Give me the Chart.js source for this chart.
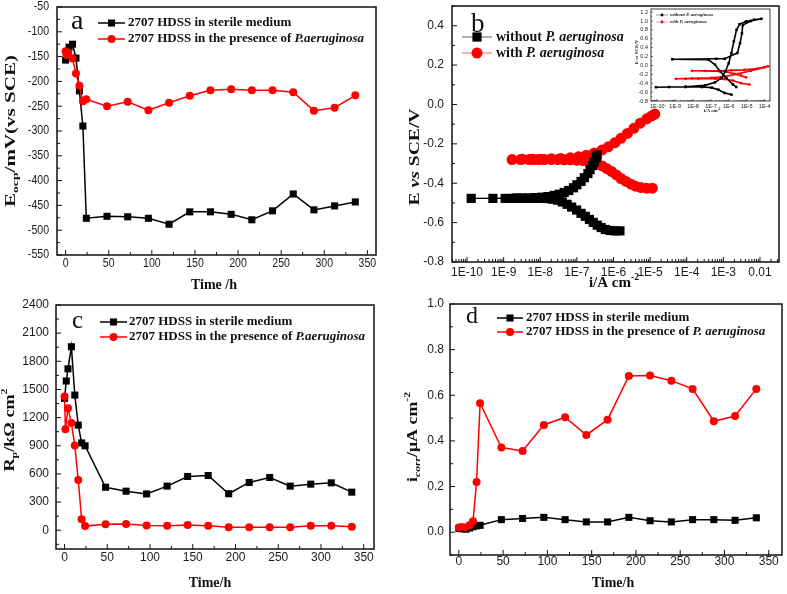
<!DOCTYPE html>
<html>
<head>
<meta charset="utf-8">
<script src="https://cdn.jsdelivr.net/npm/chart.js@4.4.0/dist/chart.umd.min.js"></script>
<style>
html, body { margin: 0; padding: 0; background: #fff; }
#wrap { position: relative; width: 787px; height: 594px; overflow: hidden; background: #fff; }
canvas { position: absolute; }
</style>
</head>
<body>
<div id="wrap">
  <canvas id="ca"></canvas>
  <canvas id="cc"></canvas>
  <canvas id="cd"></canvas>
  <canvas id="cb"></canvas>
  <canvas id="cin"></canvas>
</div>
<script>
// ---------- panel a : open circuit potential ----------
const tA_sterile = [0, 4, 8, 12, 16, 20, 24, 48, 72, 96, 120, 144, 168, 192, 216, 240, 264, 288, 312, 336];
const eocp_sterile = [-157, -131, -125, -153, -219, -290, -476, -472, -473, -476, -488, -463, -463, -468, -479, -461, -427, -459, -451, -443];
const tA_pa = [0, 1, 3, 8, 12, 16, 20, 24, 48, 72, 96, 120, 144, 168, 192, 216, 240, 264, 288, 312, 336];
const eocp_pa = [-139, -147, -142, -154, -184, -209, -240, -236, -250, -241, -258, -243, -229, -218, -216, -218, -218, -222, -259, -253, -228];
const ticksA_x = [0, 50, 100, 150, 200, 250, 300, 350];
const ticksA_y = [-550, -500, -450, -400, -350, -300, -250, -200, -150, -100, -50];

// ---------- panel b : polarization curves ----------
const iB_without = [1.5e-6, 1.1e-6, 8.1e-7, 6.0e-7, 4.6e-7, 3.6e-7, 2.8e-7, 2.2e-7, 1.7e-7, 1.3e-7, 9.8e-8, 7.2e-8, 5.4e-8, 4.0e-8, 3.0e-8, 2.2e-8, 1.6e-8, 1.2e-8, 8.9e-9, 6.6e-9, 4.9e-9, 3.6e-9, 2.7e-9, 1.8e-9, 1.1e-9, 5.1e-10, 1.3e-10,
  2.2e-9, 3.2e-9, 4.9e-9, 7.2e-9, 1.1e-8, 1.6e-8, 2.4e-8, 3.3e-8, 4.5e-8, 6.0e-8, 8.1e-8, 1.0e-7, 1.3e-7, 1.6e-7, 2.0e-7, 2.3e-7, 2.7e-7, 3.0e-7, 3.4e-7, 3.6e-7];
const eB_without = [-0.642, -0.642, -0.640, -0.635, -0.625, -0.613, -0.599, -0.584, -0.568, -0.553, -0.536, -0.521, -0.507, -0.495, -0.486, -0.481, -0.478, -0.477, -0.477, -0.477, -0.477, -0.477, -0.477, -0.477, -0.477, -0.477, -0.477,
  -0.475, -0.475, -0.475, -0.473, -0.471, -0.468, -0.462, -0.456, -0.447, -0.437, -0.423, -0.408, -0.391, -0.372, -0.351, -0.331, -0.310, -0.290, -0.269, -0.257];
const iB_with = [1.15e-5, 8.1e-6, 5.6e-6, 4.0e-6, 3.0e-6, 2.2e-6, 1.6e-6, 1.2e-6, 8.9e-7, 6.6e-7, 4.9e-7, 3.6e-7, 2.7e-7, 2.0e-7, 1.5e-7, 9.8e-8, 6.6e-8, 4.5e-8, 3.0e-8, 2.0e-8, 1.3e-8, 8.9e-9, 6.6e-9, 4.9e-9, 2.9e-9, 1.7e-9,
  3.2e-9, 6.0e-9, 1.1e-8, 2.0e-8, 3.6e-8, 6.6e-8, 1.1e-7, 1.8e-7, 3.0e-7, 4.9e-7, 7.2e-7, 1.1e-6, 1.6e-6, 2.4e-6, 3.6e-6, 5.4e-6, 8.1e-6, 1.1e-5, 1.35e-5];
const eB_with = [-0.425, -0.425, -0.422, -0.415, -0.405, -0.391, -0.376, -0.358, -0.341, -0.326, -0.312, -0.302, -0.293, -0.288, -0.285, -0.283, -0.281, -0.281, -0.280, -0.280, -0.280, -0.280, -0.280, -0.280, -0.280, -0.280,
  -0.278, -0.278, -0.278, -0.276, -0.275, -0.271, -0.266, -0.258, -0.246, -0.231, -0.215, -0.194, -0.172, -0.147, -0.121, -0.095, -0.073, -0.058, -0.049];
const ticksB_x = [1e-10, 1e-9, 1e-8, 1e-7, 1e-6, 1e-5, 1e-4, 1e-3, 1e-2];
const labelsB_x = ['1E-10', '1E-9', '1E-8', '1E-7', '1E-6', '1E-5', '1E-4', '1E-3', '0.01'];
const ticksB_y = [-0.8, -0.6, -0.4, -0.2, 0, 0.2, 0.4];
const labelsB_y = ['-0.8', '-0.6', '-0.4', '-0.2', '0.0', '0.2', '0.4'];

// inset of panel b : cyclic polarization
const iIn_without = [1.4e-6, 5.9e-7, 2.6e-7, 1.1e-7, 3.1e-8, 3.8e-9, 4.6e-10, 8.5e-11,
  3.8e-9, 4.7e-8, 1.7e-7, 3.9e-7, 6.5e-7, 9.8e-7, 1.4e-6, 1.9e-6, 2.7e-6, 4.0e-6, 9.1e-6, 2.6e-5, 6.6e-5,
  1.7e-5, 6.0e-6, 5.4e-6, 4.2e-6, 3.0e-6, 5.9e-7, 2.0e-7, 6.9e-10,
  7.2e-8, 1.7e-7, 3.2e-7, 7.2e-7, 1.7e-6, 2.6e-6];
const eIn_without = [-0.657, -0.62, -0.545, -0.50, -0.485, -0.485, -0.485, -0.49,
  -0.478, -0.448, -0.38, -0.28, -0.13, 0.05, 0.28, 0.54, 0.80, 0.93, 0.99, 1.03, 1.05,
  1.0, 0.91, 0.72, 0.50, 0.28, 0.15, 0.15, 0.14,
  0.13, 0.015, -0.13, -0.28, -0.43, -0.485];
const iIn_with = [1.4e-5, 4.9e-6, 1.7e-6, 5.9e-7, 1.7e-7, 2.0e-8, 3.8e-9, 1.1e-9,
  8.7e-9, 1.1e-7, 5.9e-7, 3.2e-6, 1.7e-5, 9.8e-5, 1.55e-4,
  4.0e-5, 7.4e-6, 1.4e-6, 2.6e-7, 4.7e-8, 8.7e-9,
  5.9e-7, 2.1e-6, 4.9e-6, 9.1e-6];
const eIn_with = [-0.43, -0.40, -0.34, -0.31, -0.30, -0.30, -0.30, -0.30,
  -0.29, -0.28, -0.25, -0.19, -0.12, -0.045, -0.02,
  -0.07, -0.10, -0.11, -0.12, -0.12, -0.12,
  -0.135, -0.19, -0.23, -0.27];
const ticksIn_x = [1e-10, 1e-9, 1e-8, 1e-7, 1e-6, 1e-5, 1e-4];
const labelsIn_x = ['1E-10', '1E-9', '1E-8', '1E-7', '1E-6', '1E-5', '1E-4'];
const ticksIn_y = [-0.8, -0.6, -0.4, -0.2, 0, 0.2, 0.4, 0.6, 0.8, 1.0, 1.2];
const labelsIn_y = ['-0.8', '-0.6', '-0.4', '-0.2', '0.0', '0.2', '0.4', '0.6', '0.8', '1.0', '1.2'];

// ---------- panel c : polarization resistance ----------
const tC_sterile = [0, 2, 4, 8, 12, 16, 20, 24, 48, 72, 96, 120, 144, 168, 192, 216, 240, 264, 288, 312, 336];
const rp_sterile = [1405, 1590, 1720, 1955, 1440, 1120, 930, 900, 458, 416, 387, 470, 573, 583, 389, 509, 562, 470, 491, 505, 406];
const tC_pa = [0, 1, 4, 8, 12, 16, 20, 24, 48, 72, 96, 120, 144, 168, 192, 216, 240, 264, 288, 312, 336];
const rp_pa = [1425, 1075, 1300, 1143, 902, 535, 116, 44, 65, 67, 50, 47, 57, 49, 33, 33, 33, 33, 49, 49, 36];
const ticksC_x = [0, 50, 100, 150, 200, 250, 300, 350];
const ticksC_y = [0, 300, 600, 900, 1200, 1500, 1800, 2100, 2400];

// ---------- panel d : corrosion current density ----------
const tD_sterile = [0, 4, 8, 12, 16, 20, 24, 48, 72, 96, 120, 144, 168, 192, 216, 240, 264, 288, 312, 336];
const icorr_sterile = [0.016, 0.015, 0.013, 0.018, 0.024, 0.028, 0.03, 0.055, 0.06, 0.065, 0.055, 0.045, 0.045, 0.065, 0.05, 0.045, 0.055, 0.055, 0.052, 0.063];
const tD_pa = [0, 3, 7, 12, 16, 20, 24, 48, 72, 96, 120, 144, 168, 192, 216, 240, 264, 288, 312, 336];
const icorr_pa = [0.021, 0.023, 0.021, 0.03, 0.048, 0.22, 0.565, 0.371, 0.356, 0.47, 0.504, 0.426, 0.493, 0.685, 0.687, 0.664, 0.628, 0.486, 0.509, 0.628];
const ticksD_x = [0, 50, 100, 150, 200, 250, 300, 350];
const ticksD_y = [0, 0.2, 0.4, 0.6, 0.8, 1.0];

const SERIF = '"Liberation Serif", "Times New Roman", serif';
const SANS = '"Liberation Sans", Arial, sans-serif';

function pts(xs, ys) { return xs.map((x, i) => ({ x: x, y: ys[i] })); }

function linMinor(major, min, max) {
  const st = major[1] - major[0], out = [];
  for (let v = major[0] - st / 2; v <= max + 1e-9; v += st) if (v >= min - 1e-9) out.push(v);
  return out;
}
function logMinor(min, max) {
  const out = [];
  for (let e = Math.floor(Math.log10(min)); e <= Math.ceil(Math.log10(max)); e++)
    for (let k = 2; k <= 9; k++) { const v = k * Math.pow(10, e); if (v > min && v < max) out.push(v); }
  return out;
}

// rich text: segments with italic / sub / sup, optional stretch to a length
function richText(ctx, segs, x, y, size, rot, len) {
  const font = s => {
    const sz = (s.sub || s.sup) ? size * 0.65 : size;
    return (s.it ? 'italic ' : '') + 'bold ' + sz + 'px ' + SERIF;
  };
  let w = 0;
  segs.forEach(s => { ctx.font = font(s); w += ctx.measureText(s.t).width; });
  ctx.save();
  ctx.translate(x, y);
  if (rot) ctx.rotate(rot);
  if (len) ctx.scale(len / w, 1);
  ctx.textBaseline = 'middle';
  ctx.textAlign = 'left';
  let cx = -w / 2;
  segs.forEach(s => {
    ctx.font = font(s);
    const dy = s.sub ? size * 0.3 : s.sup ? -size * 0.4 : 0;
    ctx.fillText(s.t, cx, dy);
    cx += ctx.measureText(s.t).width;
  });
  ctx.restore();
}

function legendText(ctx, segs, x, y, size) {
  ctx.textBaseline = 'middle';
  ctx.textAlign = 'left';
  let cx = x;
  segs.forEach(s => {
    ctx.font = (s.it ? 'italic ' : '') + 'bold ' + size + 'px ' + SERIF;
    ctx.fillText(s.t, cx, y);
    cx += ctx.measureText(s.t).width;
  });
}

function marker(ctx, style, x, y, r, color) {
  ctx.fillStyle = color;
  ctx.beginPath();
  if (style === 'rect') { const h = r * Math.SQRT1_2; ctx.rect(x - h, y - h, 2 * h, 2 * h); }
  else ctx.arc(x, y, r, 0, Math.PI * 2);
  ctx.fill();
}

const deco = {
  id: 'deco',
  afterDraw(chart, args, o) {
    const ctx = chart.ctx, a = chart.chartArea;
    const xs = chart.scales.x, ys = chart.scales.y;
    const ox = o.box.x, oy = o.box.y;
    ctx.save();
    ctx.strokeStyle = '#111';
    ctx.lineWidth = o.frameW;
    ctx.strokeRect(a.left, a.top, a.right - a.left, a.bottom - a.top);
    ctx.lineWidth = o.tickW;
    const tk = (x1, y1, x2, y2) => { ctx.beginPath(); ctx.moveTo(x1, y1); ctx.lineTo(x2, y2); ctx.stroke(); };
    o.xMajor.forEach(v => { const p = xs.getPixelForValue(v); tk(p, a.bottom, p, a.bottom - o.maj); });
    o.xMinor.forEach(v => { const p = xs.getPixelForValue(v); tk(p, a.bottom, p, a.bottom - o.min); });
    o.yMajor.forEach(v => { const p = ys.getPixelForValue(v); tk(a.left, p, a.left + o.maj, p); });
    o.yMinor.forEach(v => { const p = ys.getPixelForValue(v); tk(a.left, p, a.left + o.min, p); });

    // tick labels
    ctx.fillStyle = '#1a1a1a';
    ctx.font = o.tickSize + 'px ' + SANS;
    ctx.textBaseline = 'middle';
    o.xMajor.forEach((v, i) => {
      const p = xs.getPixelForValue(v);
      ctx.save(); ctx.translate(p, a.bottom + o.xPad); ctx.scale(o.sq, 1);
      ctx.textAlign = 'center'; ctx.fillText(o.xLabels[i], 0, 0); ctx.restore();
    });
    o.yMajor.forEach((v, i) => {
      const p = ys.getPixelForValue(v);
      ctx.save(); ctx.translate(a.left - o.yPad, p); ctx.scale(o.sq, 1);
      ctx.textAlign = 'right'; ctx.fillText(o.yLabels[i], 0, 0); ctx.restore();
    });

    // axis titles
    ctx.fillStyle = '#111';
    const yt = o.yTitle, xt = o.xTitle;
    richText(ctx, yt.segs, yt.x - ox, yt.y - oy, yt.size, -Math.PI / 2, yt.len);
    richText(ctx, xt.segs, xt.x - ox, xt.y - oy, xt.size, 0, xt.len);

    // legend
    const lg = o.legend;
    lg.rows.forEach(r => {
      ctx.strokeStyle = r.lineColor; ctx.lineWidth = lg.lw;
      tk(lg.x1 - ox, r.y - oy, lg.x2 - ox, r.y - oy);
      marker(ctx, r.style, (lg.x1 + lg.x2) / 2 - ox, r.y - oy, r.r, r.color);
      ctx.fillStyle = '#111';
      legendText(ctx, r.segs, lg.tx - ox, r.y - oy, lg.size);
    });

    // panel letter
    if (o.letter) {
      ctx.fillStyle = '#111';
      ctx.font = o.letter.size + 'px ' + SERIF;
      ctx.textAlign = 'left'; ctx.textBaseline = 'alphabetic';
      ctx.fillText(o.letter.t, o.letter.x - ox, o.letter.y - oy);
    }
    ctx.restore();
  }
};

function makePanel(id, box, plot, datasets, xScale, yScale, d) {
  const cv = document.getElementById(id);
  cv.width = box.w; cv.height = box.h;
  cv.style.left = box.x + 'px'; cv.style.top = box.y + 'px';
  d.box = box;
  const base = {
    grid: { display: false, drawTicks: false },
    border: { display: false },
    ticks: { display: false }
  };
  return new Chart(cv, {
    type: 'line',
    data: { datasets: datasets },
    options: {
      responsive: false,
      animation: false,
      events: [],
      layout: { padding: { left: 0, top: plot.t - box.y, right: box.x + box.w - plot.r, bottom: 0 } },
      plugins: { legend: { display: false }, tooltip: { enabled: false }, deco: d },
      scales: {
        x: Object.assign({}, base, xScale, { position: 'bottom', afterFit: s => { s.height = box.y + box.h - plot.b; } }),
        y: Object.assign({}, base, yScale, { position: 'left', afterFit: s => { s.width = plot.l - box.x; } })
      }
    },
    plugins: [deco]
  });
}

function ds(data, color, style, r, lw) {
  return {
    data: data, borderColor: color, backgroundColor: color, pointBackgroundColor: color,
    pointBorderColor: color, pointStyle: style, pointRadius: r, pointBorderWidth: 0,
    borderWidth: lw, tension: 0
  };
}

const legendTime = (pa) => [
  { segs: [{ t: '2707 HDSS in sterile medium' }], color: '#000', lineColor: '#000', style: 'rect', r: 5 },
  { segs: [{ t: '2707 HDSS in the presence of ' }, { t: pa, it: 1 }], color: '#ff0000', lineColor: '#ff0000', style: 'circle', r: 4 }
];

// ----- panel a -----
(() => {
  const lg = legendTime('P.aeruginosa');
  lg[0].y = 23; lg[1].y = 39;
  makePanel('ca', { x: 0, y: -10, w: 393, h: 310 }, { l: 57, t: 7, r: 376, b: 255 },
    [ds(pts(tA_pa, eocp_pa), '#ff0000', 'circle', 4, 1.5), ds(pts(tA_sterile, eocp_sterile), '#000', 'rect', 5, 1.5)],
    { type: 'linear', min: -10, max: 360 }, { type: 'linear', min: -550, max: -50 },
    {
      xMajor: ticksA_x, xLabels: ticksA_x.map(String), xMinor: linMinor(ticksA_x, -10, 360),
      yMajor: ticksA_y, yLabels: ticksA_y.map(String), yMinor: linMinor(ticksA_y, -550, -50),
      frameW: 1.5, tickW: 1, maj: 5, min: 3, tickSize: 12, sq: 0.88, xPad: 9, yPad: 8,
      yTitle: { segs: [{ t: 'E' }, { t: 'ocp', sub: 1 }, { t: '/mV(vs SCE)' }], x: 11, y: 131, size: 14, len: 152 },
      xTitle: { segs: [{ t: 'Time /h' }], x: 214, y: 285, size: 14 },
      legend: { x1: 98, x2: 125, tx: 128, size: 13, lw: 1.5, rows: lg },
      letter: { t: 'a', x: 71, y: 29, size: 28 }
    });
})();

// ----- panel b -----
(() => {
  const minB = Math.pow(10, -10.41), maxB = Math.pow(10, -1.48);
  makePanel('cb', { x: 393, y: -10, w: 394, h: 310 }, { l: 452, t: 6, r: 779, b: 262 },
    [ds(pts(iB_without, eB_without), '#000', 'rect', 6.5, 1.2), ds(pts(iB_with, eB_with), '#ff0000', 'circle', 5.5, 1.2)],
    { type: 'logarithmic', min: minB, max: maxB }, { type: 'linear', min: -0.8, max: 0.5 },
    {
      xMajor: ticksB_x, xLabels: labelsB_x, xMinor: logMinor(minB, maxB),
      yMajor: ticksB_y, yLabels: labelsB_y, yMinor: linMinor(ticksB_y, -0.8, 0.5),
      frameW: 1.5, tickW: 1, maj: 5, min: 3, tickSize: 12, sq: 1, xPad: 11, yPad: 8,
      yTitle: { segs: [{ t: 'E ' }, { t: 'vs', it: 1 }, { t: ' SCE/V' }], x: 415, y: 157, size: 15, len: 97 },
      xTitle: { segs: [{ t: 'i/A cm' }, { t: '-2', sup: 1 }], x: 614, y: 283, size: 15 },
      legend: { x1: 462, x2: 492, tx: 496, size: 14, lw: 1, rows: [
        { y: 37, segs: [{ t: 'without ' }, { t: 'P. aeruginosa', it: 1 }], color: '#000', lineColor: '#666', style: 'rect', r: 6.5 },
        { y: 53, segs: [{ t: 'with ' }, { t: 'P. aeruginosa', it: 1 }], color: '#ff0000', lineColor: '#ff6060', style: 'circle', r: 5.5 }
      ] },
      letter: { t: 'b', x: 471, y: 32, size: 27 }
    });
})();

// ----- inset of panel b -----
(() => {
  const minI = Math.pow(10, -10.35), maxI = Math.pow(10, -3.7);
  makePanel('cin', { x: 612, y: -4, w: 175, h: 124 }, { l: 651, t: 9, r: 770, b: 101 },
    [ds(pts(iIn_without, eIn_without), '#000', 'rect', 1.8, 1.6), ds(pts(iIn_with, eIn_with), '#ff0000', 'circle', 1.4, 1.6)],
    { type: 'logarithmic', min: minI, max: maxI }, { type: 'linear', min: -0.8, max: 1.27 },
    {
      xMajor: ticksIn_x, xLabels: labelsIn_x, xMinor: logMinor(minI, maxI),
      yMajor: ticksIn_y, yLabels: labelsIn_y, yMinor: linMinor(ticksIn_y, -0.8, 1.27),
      frameW: 0.8, tickW: 0.6, maj: 2, min: 1, tickSize: 5.5, sq: 1, xPad: 5, yPad: 3,
      yTitle: { segs: [{ t: 'E ' }, { t: 'vs', it: 1 }, { t: ' SCE/V' }], x: 637, y: 52, size: 5 },
      xTitle: { segs: [{ t: 'i/A cm' }, { t: '-2', sup: 1 }], x: 712, y: 111, size: 5 },
      legend: { x1: 656, x2: 668, tx: 670, size: 4.8, lw: 0.6, rows: [
        { y: 15, segs: [{ t: 'without ', it: 1 }, { t: 'P. aeruginosa', it: 1 }], color: '#000', lineColor: '#555', style: 'rect', r: 1.8 },
        { y: 22, segs: [{ t: 'with ', it: 1 }, { t: 'P. aeruginosa', it: 1 }], color: '#ff0000', lineColor: '#ff5050', style: 'circle', r: 1.4 }
      ] }
    });
})();

// ----- panel c -----
(() => {
  const lg = legendTime('P.aeruginosa');
  lg[0].y = 322; lg[1].y = 337;
  makePanel('cc', { x: 0, y: 290, w: 393, h: 304 }, { l: 56, t: 305, r: 374, b: 549 },
    [ds(pts(tC_pa, rp_pa), '#ff0000', 'circle', 4, 1.5), ds(pts(tC_sterile, rp_sterile), '#000', 'rect', 5, 1.5)],
    { type: 'linear', min: -10, max: 362 }, { type: 'linear', min: -200, max: 2400 },
    {
      xMajor: ticksC_x, xLabels: ticksC_x.map(String), xMinor: linMinor(ticksC_x, -10, 362),
      yMajor: ticksC_y, yLabels: ticksC_y.map(String), yMinor: linMinor(ticksC_y, -200, 2400),
      frameW: 1.5, tickW: 1, maj: 5, min: 3, tickSize: 12, sq: 1, xPad: 9, yPad: 7,
      yTitle: { segs: [{ t: 'R' }, { t: 'p', sub: 1 }, { t: '/k\u03A9 cm' }, { t: '2', sup: 1 }], x: 10, y: 430, size: 14, len: 83 },
      xTitle: { segs: [{ t: 'Time/h' }], x: 210, y: 583, size: 14 },
      legend: { x1: 100, x2: 127, tx: 129, size: 13, lw: 1.5, rows: lg },
      letter: { t: 'c', x: 72, y: 328, size: 25 }
    });
})();

// ----- panel d -----
(() => {
  const lg = legendTime('P. aeruginosa');
  lg[0].y = 318; lg[1].y = 332;
  makePanel('cd', { x: 393, y: 290, w: 394, h: 304 }, { l: 450, t: 304, r: 782, b: 555 },
    [ds(pts(tD_pa, icorr_pa), '#ff0000', 'circle', 4, 1.5), ds(pts(tD_sterile, icorr_sterile), '#000', 'rect', 5, 1.5)],
    { type: 'linear', min: -10, max: 365 }, { type: 'linear', min: -0.1, max: 1.0 },
    {
      xMajor: ticksD_x, xLabels: ticksD_x.map(String), xMinor: linMinor(ticksD_x, -10, 365),
      yMajor: ticksD_y, yLabels: ticksD_y.map(v => v.toFixed(1)), yMinor: linMinor(ticksD_y, -0.1, 1.0),
      frameW: 1.5, tickW: 1, maj: 5, min: 3, tickSize: 12, sq: 1, xPad: 7, yPad: 6,
      yTitle: { segs: [{ t: 'i' }, { t: 'corr', sub: 1, it: 1 }, { t: '/\u03BCA cm' }, { t: '-2', sup: 1 }], x: 413, y: 437, size: 14, len: 90 },
      xTitle: { segs: [{ t: 'Time/h' }], x: 613, y: 583, size: 14 },
      legend: { x1: 497, x2: 523, tx: 526, size: 13, lw: 1.5, rows: lg },
      letter: { t: 'd', x: 466, y: 323, size: 24 }
    });
})();
</script>
</body>
</html>
